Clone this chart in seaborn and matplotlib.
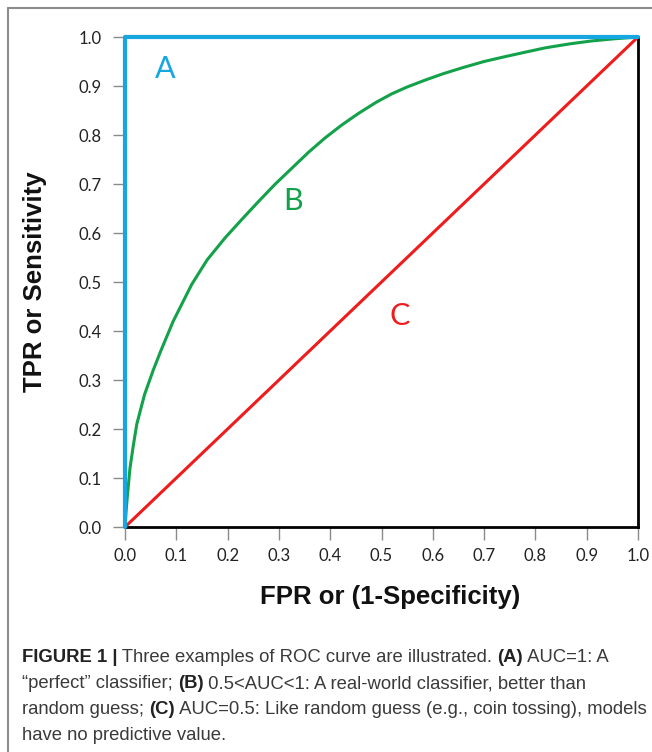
import matplotlib
matplotlib.use("Agg")
import matplotlib.pyplot as plt
import seaborn as sns
import pandas as pd
from matplotlib.lines import Line2D

# ROC curves
perfect_fpr = [0.0, 0.0, 1.0]
perfect_tpr = [0.0, 1.0, 1.0]

real_fpr = [0.0, 0.002, 0.0045, 0.0097, 0.016, 0.023, 0.038, 0.055, 0.07, 0.094,
            0.13, 0.16, 0.195, 0.228, 0.26, 0.293, 0.325, 0.358, 0.39, 0.422,
            0.455, 0.49, 0.52, 0.55, 0.585, 0.62, 0.66, 0.70, 0.737, 0.78,
            0.82, 0.867, 0.91, 0.95, 1.0]
real_tpr = [0.0, 0.03, 0.062, 0.12, 0.165, 0.21, 0.27, 0.32, 0.36, 0.42,
            0.495, 0.545, 0.59, 0.628, 0.664, 0.70, 0.732, 0.765, 0.794, 0.82,
            0.844, 0.867, 0.884, 0.898, 0.912, 0.925, 0.938, 0.95, 0.959, 0.969,
            0.978, 0.986, 0.992, 0.996, 1.0]

random_fpr = [0.0, 1.0]
random_tpr = [0.0, 1.0]

curve_labels = ["A", "B", "C"]
label_pos = [(0.078, 0.935), (0.328, 0.665), (0.535, 0.43)]
colors = ["#16A7E0", "#13A14A", "#EE1C1C"]

tick_vals = [0.0, 0.1, 0.2, 0.3, 0.4, 0.5, 0.6, 0.7, 0.8, 0.9, 1.0]

caption_lines = [
    [("FIGURE 1 |", True), (" Three examples of ROC curve are illustrated. ", False),
     ("(A)", True), (" AUC=1: A", False)],
    [("\u201cperfect\u201d classifier; ", False), ("(B)", True),
     (" 0.5<AUC<1: A real-world classifier, better than", False)],
    [("random guess; ", False), ("(C)", True),
     (" AUC=0.5: Like random guess (e.g., coin tossing), models", False)],
    [("have no predictive value.", False)],
]

sns.set_style("white")
plt.rcParams["font.family"] = ["Lato", "DejaVu Sans"]

fig = plt.figure(figsize=(6.52, 7.52), dpi=100)
ax = fig.add_axes([125 / 652, 1 - 527 / 752, 513 / 652, 490 / 752])

df_a = pd.DataFrame({"fpr": perfect_fpr, "tpr": perfect_tpr})
df_b = pd.DataFrame({"fpr": real_fpr, "tpr": real_tpr})
df_c = pd.DataFrame({"fpr": random_fpr, "tpr": random_tpr})

sns.lineplot(data=df_c, x="fpr", y="tpr", sort=False, estimator=None,
             color=colors[2], lw=2.2, ax=ax, zorder=3)
sns.lineplot(data=df_b, x="fpr", y="tpr", sort=False, estimator=None,
             color=colors[1], lw=2.2, ax=ax, zorder=4)
sns.lineplot(data=df_a, x="fpr", y="tpr", sort=False, estimator=None,
             color=colors[0], lw=3, ax=ax, zorder=5, clip_on=False)

for lab, (lx, ly), c in zip(curve_labels, label_pos, colors):
    ax.text(lx, ly, lab, color=c, fontsize=22, ha="center", va="center")

ax.set_xlim(0, 1)
ax.set_ylim(0, 1)
ax.set_xticks(tick_vals)
ax.set_yticks(tick_vals)
ax.set_xticklabels([f"{v:.1f}" for v in tick_vals])
ax.set_yticklabels([f"{v:.1f}" for v in tick_vals])
ax.tick_params(axis="both", direction="out", length=9, width=1, color="#8a8a8a",
               labelsize=12, labelcolor="#222222", left=True, bottom=True)
ax.tick_params(axis="x", pad=6)
ax.tick_params(axis="y", pad=8)

for side in ["bottom", "right"]:
    ax.spines[side].set_color("black")
    ax.spines[side].set_linewidth(2)
ax.spines["left"].set_color("#444444")
ax.spines["left"].set_linewidth(1.5)
ax.spines["top"].set_visible(False)

ax.set_xlabel("")
ax.set_ylabel("")
fig.text(390 / 652, 1 - 597 / 752, "FPR or (1-Specificity)", fontsize=18.5,
         fontweight="bold", family=["Liberation Sans", "DejaVu Sans"],
         ha="center", va="center", color="#111111")
fig.text(35 / 652, 1 - 282 / 752, "TPR or Sensitivity", fontsize=18.5,
         fontweight="bold", family=["Liberation Sans", "DejaVu Sans"],
         rotation=90, ha="center", va="center", color="#111111")

# frame lines on the left and top edges
fig.add_artist(Line2D([8 / 652, 8 / 652], [0, 1 - 8 / 752], transform=fig.transFigure,
                      color="#8c8c8c", lw=1.5))
fig.add_artist(Line2D([8 / 652, 1], [1 - 8 / 752, 1 - 8 / 752], transform=fig.transFigure,
                      color="#8c8c8c", lw=1.5))

# caption with mixed bold runs
renderer = fig.canvas.get_renderer()
line_y = [658, 684, 710, 736]
for segs, yy in zip(caption_lines, line_y):
    x_px = 22
    for txt, bold in segs:
        t = fig.text(x_px / 652, 1 - yy / 752, txt, fontsize=13.3,
                     family=["Liberation Sans", "DejaVu Sans"],
                     fontweight="bold" if bold else "normal",
                     color="#222222" if bold else "#3a3a3a",
                     ha="left", va="center")
        bb = t.get_window_extent(renderer)
        x_px += bb.width

fig.savefig("out.png", dpi=100)
